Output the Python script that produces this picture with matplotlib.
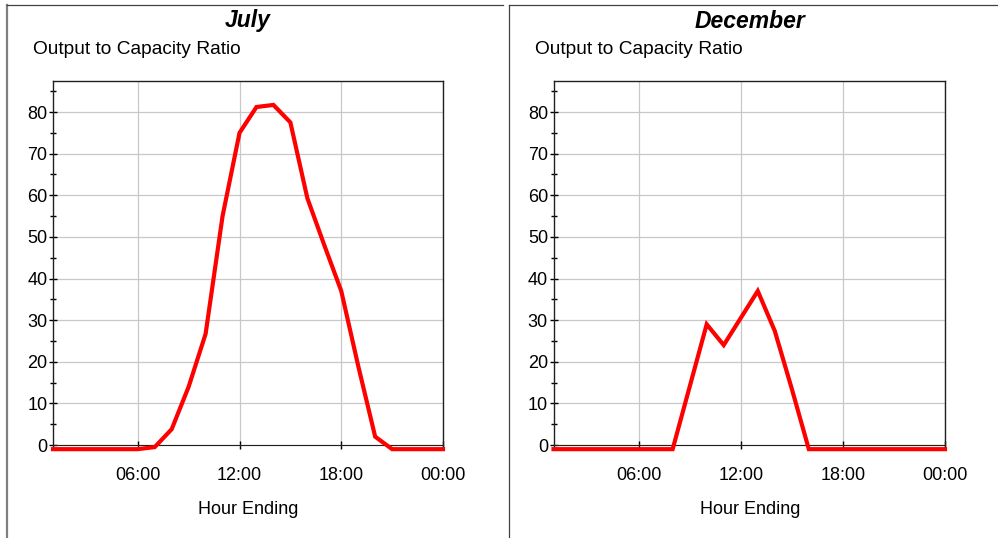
import matplotlib
matplotlib.use("Agg")
import matplotlib.pyplot as plt
from matplotlib.lines import Line2D
from matplotlib.ticker import MultipleLocator

plt.rcParams['font.family'] = ['Liberation Sans', 'DejaVu Sans']

hours = list(range(1, 25))
july = [-1, -1, -1, -1, -1, -1, -0.5, 3.8, 14, 26.7, 55, 75, 81.2, 81.7, 77.5, 59.3,
        48, 37, 19, 2, -1, -1, -1, -1]
december = [-1, -1, -1, -1, -1, -1, -1, -1, 14, 29, 24, 30.5, 37, 27.4, 13.5, -1,
            -1, -1, -1, -1, -1, -1, -1, -1]
titles = ["July", "December"]
xtick_pos = [6, 12, 18, 24]
xtick_labels = ["06:00", "12:00", "18:00", "00:00"]
ytick_pos = [0, 10, 20, 30, 40, 50, 60, 70, 80]
ylabel_text = "Output to Capacity Ratio"
xlabel_text = "Hour Ending"

W, H = 998, 538
fig = plt.figure(figsize=(W / 100, H / 100), dpi=100)

def fx(px):
    return px / W

def fy(py):
    return 1 - py / H

# panel borders
fig.add_artist(Line2D([fx(7), fx(7)], [fy(5), fy(538)], color="#808080", lw=1.6, transform=fig.transFigure))
fig.add_artist(Line2D([fx(7), fx(503)], [fy(5), fy(5)], color="#404040", lw=0.9, transform=fig.transFigure))
fig.add_artist(Line2D([fx(509), fx(509)], [fy(5), fy(538)], color="#404040", lw=0.9, transform=fig.transFigure))
fig.add_artist(Line2D([fx(509), fx(998)], [fy(5), fy(5)], color="#404040", lw=0.9, transform=fig.transFigure))

panels = [(53, 443, 248, 33, july), (553.5, 945, 750, 535, december)]
top_px, bot_px = 81, 449

for (x0, x1, cx, lx, vals), title in zip(panels, titles):
    ax = fig.add_axes([fx(x0), fy(bot_px), fx(x1) - fx(x0), fy(top_px) - fy(bot_px)])
    ax.set_xlim(1, 24)
    ax.set_ylim(-0.96, 87.45)
    ax.grid(True, color="#c8c8c8", lw=0.9)
    ax.set_axisbelow(True)
    ax.plot(hours, vals, color="#ff0000", lw=3, clip_on=False, solid_joinstyle="miter", zorder=5)
    ax.spines['bottom'].set_position(('data', 0))
    ax.spines['bottom'].set_color("#202020")
    for s in ['top', 'right', 'left']:
        ax.spines[s].set_color("#202020")
        ax.spines[s].set_linewidth(1.0)
    ax.set_xticks(xtick_pos)
    ax.set_xticklabels(xtick_labels)
    ax.set_yticks(ytick_pos)
    ax.yaxis.set_minor_locator(MultipleLocator(5))
    ax.tick_params(axis='y', which='major', direction='inout', length=6, width=1, labelsize=13, pad=1)
    ax.tick_params(axis='y', which='minor', direction='inout', length=5, width=1)
    ax.tick_params(axis='x', which='major', direction='inout', length=6, width=1, labelsize=13, pad=13)
    # titles
    fig.text(fx(cx), fy(21), title, ha='center', va='center', fontsize=16.5,
             fontweight='bold', fontstyle='italic')
    fig.text(fx(lx), fy(49), ylabel_text, ha='left', va='center', fontsize=13.8)
    fig.text(fx(cx), fy(509), xlabel_text, ha='center', va='center', fontsize=13)

fig.savefig("out.png", dpi=100)
